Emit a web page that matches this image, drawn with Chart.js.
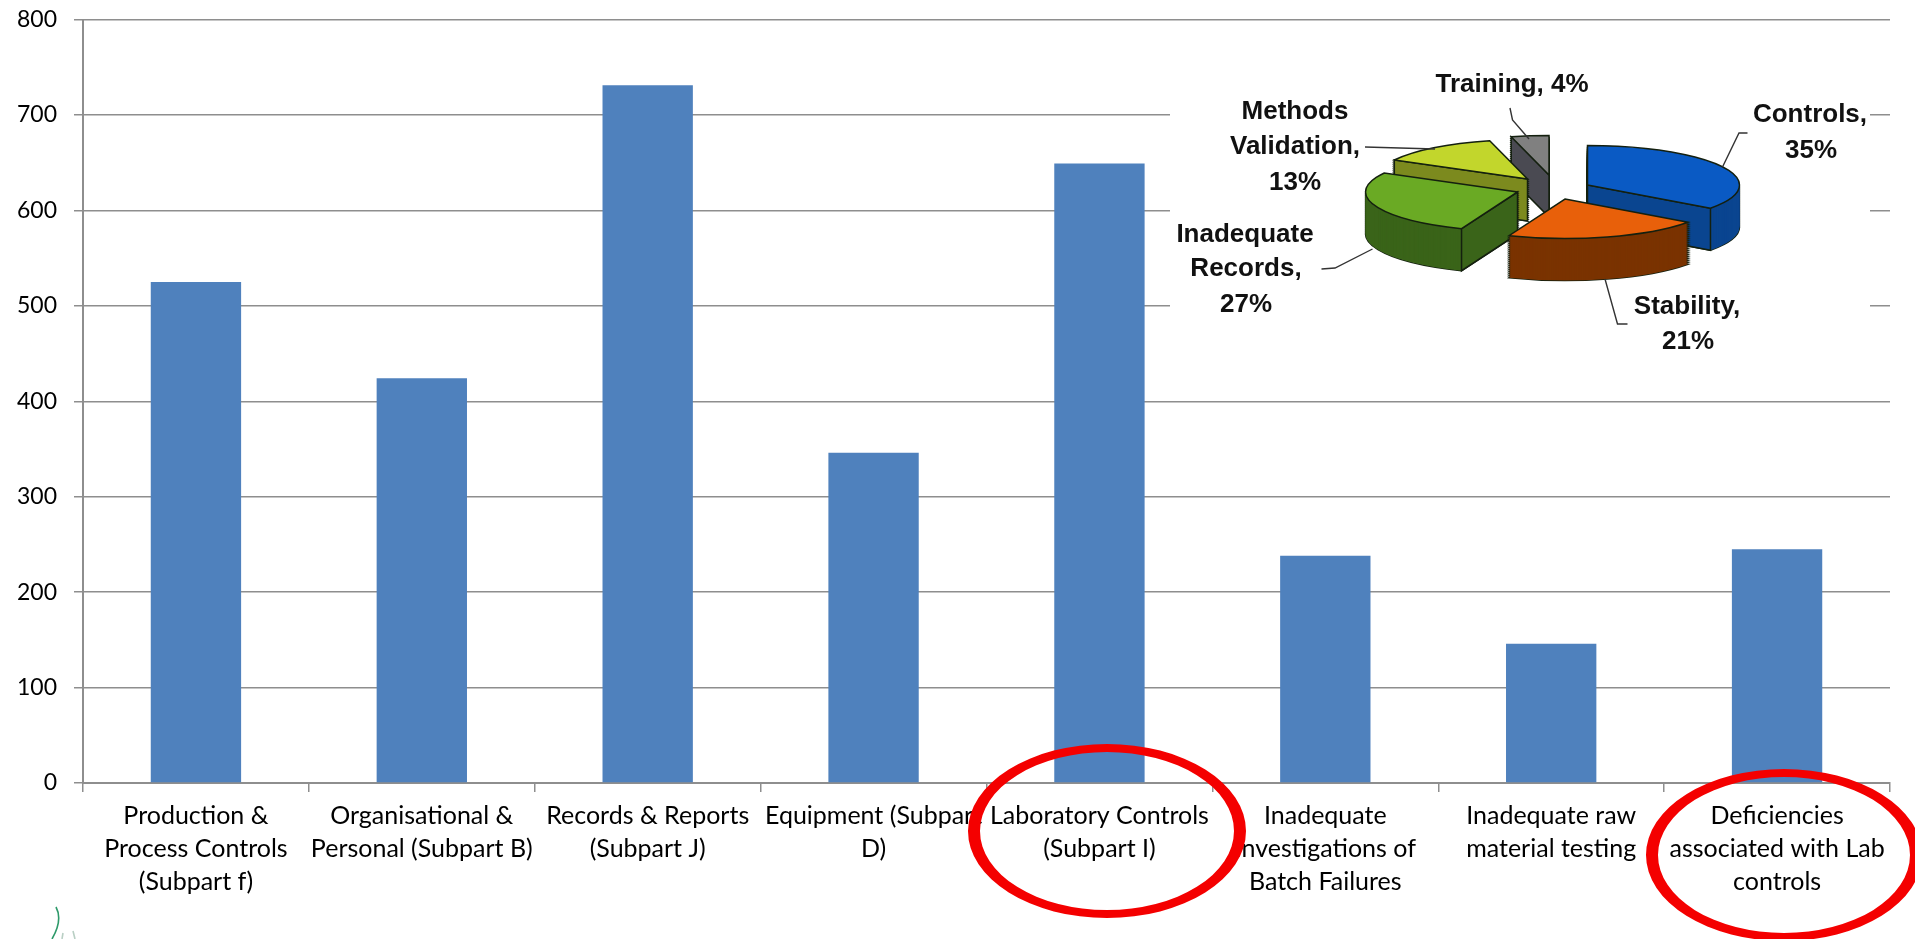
<!DOCTYPE html>
<html>
<head>
<meta charset="utf-8">
<title>Deficiencies chart</title>
<script src="https://cdn.jsdelivr.net/npm/chart.js@4"></script>
<style>
  html, body { margin: 0; padding: 0; background: #fff; overflow: hidden; }
  #wrap { position: relative; width: 1915px; height: 939px; }
  #bars { position: absolute; left: 0; top: 0; }
  #pie { position: absolute; left: 1170px; top: 58px; background: #fff; }
</style>
</head>
<body>
<div id="wrap">
  <canvas id="bars" width="1915" height="939"></canvas>
  <canvas id="pie" width="700" height="304"></canvas>
</div>
<script>
const categories = [
  ["Production &", "Process Controls", "(Subpart f)"],
  ["Organisational &", "Personal (Subpart B)"],
  ["Records & Reports", "(Subpart J)"],
  ["Equipment (Subpart", "D)"],
  ["Laboratory Controls", "(Subpart I)"],
  ["Inadequate", "Investigations of", "Batch Failures"],
  ["Inadequate raw", "material testing"],
  ["Deficiencies", "associated with Lab", "controls"],
];
const counts = [525, 424, 731, 346, 649, 238, 146, 245];
const yMax = 800;
const yStep = 100;

const pieNames = ["Controls", "Stability", "Inadequate Records", "Methods Validation", "Training"];
const pieShares = [35, 21, 27, 13, 4];
const pieTop = ["#0a5ac4", "#e8600a", "#6aaa24", "#c2d62c", "#808080"];
const pieWall = ["#0a4590", "#7a3300", "#3a6419", "#7c8a1e", "#4a4a52"];

const GRID = "#8e8e8e";
const FONT = "Lato";

// red rings and the small logo scrap are just annotations on top of the bar chart
const annotations = {
  id: "annotations",
  afterDraw(chart) {
    const ctx = chart.ctx;
    ctx.save();
    ctx.fillStyle = "#f40000";
    [[1107, 831, 139, 87, 127, 79], [1784, 855, 138, 86, 126, 78]].forEach(([x, y, rx, ry, ix, iy]) => {
      ctx.beginPath();
      ctx.ellipse(x, y, rx, ry, 0, 0, Math.PI * 2);
      ctx.ellipse(x, y, ix, iy, 0, 0, Math.PI * 2);
      ctx.fill("evenodd");
    });
    ctx.lineWidth = 1.6;
    ctx.strokeStyle = "#2e9a6a";
    ctx.beginPath();
    ctx.moveTo(56, 907);
    ctx.quadraticCurveTo(63, 920, 52, 939);
    ctx.stroke();
    ctx.strokeStyle = "#b9cfc4";
    ctx.beginPath();
    ctx.moveTo(63, 933);
    ctx.lineTo(62, 939);
    ctx.moveTo(73, 931);
    ctx.lineTo(75, 939);
    ctx.stroke();
    ctx.restore();
  },
};

new Chart(document.getElementById("bars"), {
  type: "bar",
  data: {
    labels: categories,
    datasets: [{ data: counts, backgroundColor: "#4f81bd", barPercentage: 0.4, categoryPercentage: 1 }],
  },
  plugins: [annotations],
  options: {
    responsive: false,
    animation: false,
    layout: { padding: { top: 19.5, right: 25, left: 0, bottom: 0 } },
    plugins: { legend: { display: false }, tooltip: { enabled: false } },
    scales: {
      x: {
        afterFit: s => { s.height = 156; },
        border: { color: GRID, width: 2 },
        grid: { offset: true, drawOnChartArea: false, color: GRID, lineWidth: 1.5, tickLength: 9 },
        ticks: {
          autoSkip: false, maxRotation: 0, minRotation: 0, padding: 8, color: "#000",
          font: { family: FONT, size: 25, lineHeight: 1.31 },
        },
      },
      y: {
        min: 0,
        max: yMax,
        afterFit: s => { s.width = 83; s.paddingTop = 0; s.paddingBottom = 0; },
        border: { color: GRID, width: 2 },
        grid: { color: GRID, lineWidth: 1.5, tickLength: 9 },
        ticks: { stepSize: yStep, padding: 17, color: "#000", font: { family: FONT, size: 23 } },
      },
    },
  },
});

// inset: flat pie arcs squashed and extruded to get the 3D look
const INSET_X = 1170, INSET_Y = 58;
const PIE_X = 1555 - INSET_X, PIE_Y = 186 - INSET_Y;
const SQUASH = 0.26, DEPTH = 42;
const drawOrder = [4, 3, 0, 2, 1];
// how far each slice is pulled out of the pie
const explode = [[32.5, -1], [10, 13], [-37.5, 6], [-27.5, -7], [-6, -11]];

const pie3d = {
  id: "pie3d",
  beforeDatasetsDraw(chart) {
    const ctx = chart.ctx;
    const arcs = chart.getDatasetMeta(0).data;

    const apex = (i, d) => [PIE_X + explode[i][0], PIE_Y + explode[i][1] + d];
    const outline = (i, d) => {
      const arc = arcs[i];
      const [ax, ay] = apex(i, d);
      ctx.beginPath();
      ctx.moveTo(ax, ay);
      ctx.ellipse(ax, ay, arc.outerRadius, arc.outerRadius * SQUASH, 0, arc.startAngle, arc.endAngle);
      ctx.closePath();
      ctx.stroke();
    };
    const layer = (i, d, colour) => {
      const arc = arcs[i];
      const saved = arc.options;
      const [ax, ay] = apex(i, d);
      arc.options = Object.assign({}, saved, { backgroundColor: colour });
      ctx.save();
      ctx.translate(ax, ay);
      ctx.scale(1, SQUASH);
      ctx.translate(-arc.x, -arc.y);
      arc.draw(ctx);
      ctx.restore();
      arc.options = saved;
    };
    const face = (i, angle, colour) => {
      const arc = arcs[i];
      const [ax, ay] = apex(i, 0);
      const ex = ax + Math.cos(angle) * arc.outerRadius;
      const ey = ay + Math.sin(angle) * arc.outerRadius * SQUASH;
      ctx.beginPath();
      ctx.moveTo(ax, ay);
      ctx.lineTo(ex, ey);
      ctx.lineTo(ex, ey + DEPTH);
      ctx.lineTo(ax, ay + DEPTH);
      ctx.closePath();
      ctx.fillStyle = colour;
      ctx.fill();
      ctx.stroke();
    };

    ctx.save();
    ctx.strokeStyle = "#14200f";
    ctx.lineWidth = 1.5;
    drawOrder.forEach(i => {
      const arc = arcs[i];
      for (let d = DEPTH; d > 0; d -= 2) outline(i, d);
      for (let d = DEPTH; d > 0; d--) layer(i, d, pieWall[i]);
      // only the cut faces turned to the viewer
      if (-Math.cos(arc.startAngle) > 0.01) face(i, arc.startAngle, pieWall[i]);
      if (Math.cos(arc.endAngle) > 0.01) face(i, arc.endAngle, pieWall[i]);
      layer(i, 0, pieTop[i]);
      outline(i, 0);
    });
    ctx.restore();
    return false;
  },
  afterDraw(chart) {
    const ctx = chart.ctx;
    ctx.save();
    ctx.translate(-INSET_X, -INSET_Y);
    ctx.strokeStyle = "#333";
    ctx.lineWidth = 1.4;
    [
      [[1510, 108], [1512.5, 120], [1529, 139]],
      [[1365, 147], [1435, 149]],
      [[1321.5, 269], [1335, 268], [1372.5, 249]],
      [[1747.5, 133], [1739, 133], [1722.5, 167]],
      [[1627.5, 324], [1617.5, 324], [1605, 279]],
    ].forEach(pts => {
      ctx.beginPath();
      pts.forEach(([x, y], i) => (i ? ctx.lineTo(x, y) : ctx.moveTo(x, y)));
      ctx.stroke();
    });
    ctx.fillStyle = "#111";
    ctx.font = "bold 26px 'Liberation Sans'";
    ctx.textAlign = "center";
    ctx.textBaseline = "middle";
    [
      ["Training, 4%", 1512, 85],
      ["Methods", 1295, 112], ["Validation,", 1295, 147], ["13%", 1295, 183],
      ["Inadequate", 1245, 235], ["Records,", 1246, 269], ["27%", 1246, 305],
      ["Controls,", 1810, 115], ["35%", 1811, 151],
      ["Stability,", 1687, 307], ["21%", 1688, 342],
    ].forEach(([t, x, y]) => ctx.fillText(t, x, y));
    ctx.restore();
  },
};

new Chart(document.getElementById("pie"), {
  type: "pie",
  data: {
    labels: pieNames,
    datasets: [{
      data: pieShares,
      backgroundColor: pieTop,
      borderWidth: 0,
      clip: false,
    }],
  },
  plugins: [pie3d],
  options: {
    responsive: false,
    animation: false,
    radius: 152,
    plugins: { legend: { display: false }, tooltip: { enabled: false } },
  },
});
</script>
</body>
</html>
